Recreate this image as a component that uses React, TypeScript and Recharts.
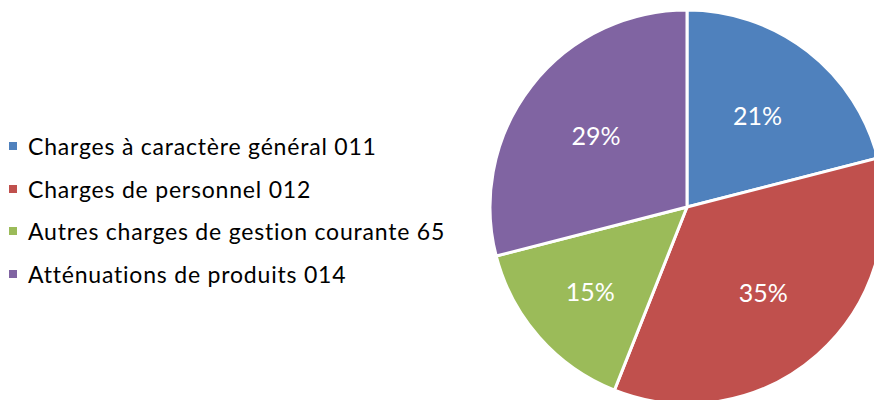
import { Cell, Pie, PieChart } from "recharts";

const categories = [
  "Charges à caractère général 011",
  "Charges de personnel 012",
  "Autres charges de gestion courante 65",
  "Atténuations de produits 014",
];
const shares = [21, 35, 15, 29];
const colors = ["#4F81BD", "#C0504D", "#9BBB59", "#8064A2"];

const data = categories.map((name, i) => ({ name, value: shares[i] }));

const FONT = "Lato, 'Open Sans', sans-serif";
const RAD = Math.PI / 180;
const LABEL_SIZE = 25;

function renderLabel(props: any) {
  const { cx, cy, midAngle, outerRadius, value, percent } = props;
  // narrow slices get their label pushed a bit further out, like excel's best fit
  const r = outerRadius * (percent < 0.2 ? 0.655 : 0.585);
  const x = cx + r * Math.cos(-midAngle * RAD);
  const y = cy + r * Math.sin(-midAngle * RAD);
  return (
    <text
      x={x}
      y={y + LABEL_SIZE * 0.36}
      fill="#fff"
      fontSize={LABEL_SIZE}
      fontFamily={FONT}
      textAnchor="middle"
    >
      {`${value}%`}
    </text>
  );
}

// legend drawn as plain html so it doesn't push the pie around
function LegendList() {
  return (
    <div
      style={{
        position: "absolute",
        left: 0,
        top: 125,
        fontFamily: FONT,
        fontSize: 23,
        letterSpacing: 0.8,
        color: "#000",
      }}
    >
      {data.map((d, i) => (
        <div
          key={d.name}
          style={{ display: "flex", alignItems: "center", height: 42.5, whiteSpace: "nowrap" }}
        >
          <span
            style={{
              display: "inline-block",
              width: 8,
              height: 8,
              background: colors[i],
              marginLeft: 9,
              marginRight: 11,
            }}
          />
          {d.name}
        </div>
      ))}
    </div>
  );
}

export default function App() {
  return (
    <div style={{ position: "absolute", left: 0, top: 0, width: 874, height: 400, background: "#fff" }}>
      <PieChart width={874} height={400} margin={{ top: 0, right: 0, bottom: 0, left: 0 }}>
        <Pie
          data={data}
          dataKey="value"
          nameKey="name"
          cx={687}
          cy={207}
          outerRadius={197}
          startAngle={90}
          endAngle={-270}
          stroke="#fff"
          strokeWidth={3}
          labelLine={false}
          label={renderLabel}
          isAnimationActive={false}
        >
          {data.map((d, i) => (
            <Cell key={d.name} fill={colors[i]} />
          ))}
        </Pie>
      </PieChart>
      <LegendList />
    </div>
  );
}
